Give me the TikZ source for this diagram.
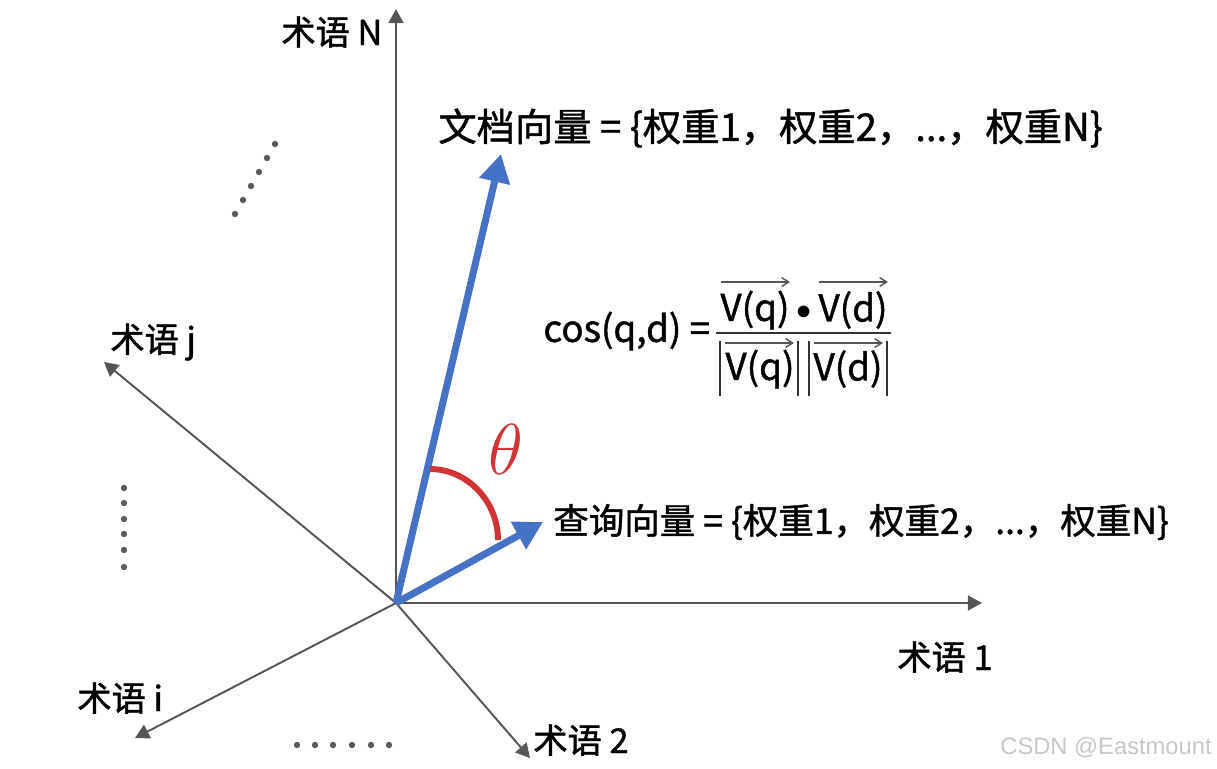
\documentclass[tikz,border=0pt]{standalone}
\usepackage{fontspec}
\setmainfont{Noto Sans CJK SC}[FakeBold=1.2]
\newfontfamily\wmfont{Liberation Sans}
\usetikzlibrary{arrows.meta}
\definecolor{axisgray}{RGB}{85,85,85}
\definecolor{vecblue}{RGB}{68,114,196}
\definecolor{arcred}{RGB}{210,52,52}
\definecolor{dotgray}{RGB}{90,90,90}
\begin{document}
\begin{tikzpicture}[x=0.02cm,y=-0.02cm,
  axis/.style={draw=axisgray,line width=1.1pt,-{Triangle[length=8pt,width=8.5pt]}},
  vec/.style={draw=vecblue,line width=4pt,-{Triangle[length=16pt,width=17pt]}},
  lbl/.style={font=\fontsize{19.5}{22}\selectfont,inner sep=0pt},
  flbl/.style={font=\fontsize{21}{24}\selectfont,inner sep=0pt},
  farr/.style={draw=axisgray,line width=0.8pt,-{Straight Barb[length=4pt,width=5pt]}},
  fbar/.style={draw=black!80,line width=0.8pt},
  dotc/.style={fill=dotgray,draw=none}]
\useasboundingbox (0,0) rectangle (1217,768);
\coordinate (O) at (396,603);
\coordinate (tN) at (396,9);
\coordinate (t1) at (982,603);
\coordinate (tj) at (104,362);
\coordinate (ti) at (135,738);
\coordinate (t2) at (530,758);
\coordinate (dtip) at (501,154);
\coordinate (qtip) at (543,522);
% axes
\draw[axis] (O) -- (tN);
\draw[axis] (O) -- (t1);
\draw[axis] (O) -- (tj);
\draw[axis] (O) -- (ti);
\draw[axis] (O) -- (t2);
% vectors
\draw[vec] (O) -- (dtip);
\draw[vec] (O) -- (qtip);
% angle arc
\coordinate (a1) at (430,469);
\coordinate (a2) at (498,540);
\draw[arcred,line width=3.4pt] (a1) .. controls (467,469) and (498,501) .. (a2);
\node[text=arcred,font=\fontsize{24}{28}\selectfont,inner sep=0pt,scale=1.65] (theta) at (506,449) {$\theta$};
% labels
\node[lbl,anchor=west] (lN) at (281,32) {术语 N};
\node[lbl,anchor=west] (lj) at (110,342) {术语 j};
\node[lbl,anchor=west] (l1) at (897,657) {术语 1};
\node[lbl,anchor=west] (li) at (77,698) {术语 i};
\node[lbl,anchor=west] (l2) at (533,740) {术语 2};
\node[lbl,anchor=west,font=\fontsize{21.8}{24}\selectfont] (ldoc) at (438,128) {文档向量 = \{权重1，权重2，...，权重N\}};
\node[lbl,anchor=west,font=\fontsize{20.2}{24}\selectfont] (lq) at (553,522) {查询向量 = \{权重1，权重2，...，权重N\}};
% formula
\node[flbl,anchor=west] (fcos) at (543,331) {cos(q,d) =};
\node[flbl] (nq) at (755,310) {V(q)};
\node[flbl,font=\fontsize{16}{18}\selectfont] (ndot) at (804,313) {$\bullet$};
\node[flbl] (nd) at (853,310) {V(d)};
\draw[farr] (721,282) -- (790,282);
\draw[farr] (819,282) -- (888,282);
\draw[fbar] (716,333) -- (891,333);
\node[flbl] (dq) at (760,369) {V(q)};
\node[flbl] (dd) at (848,369) {V(d)};
\draw[farr] (725,343) -- (794,343);
\draw[farr] (814,343) -- (883,343);
\coordinate (b1t) at (720,341); \coordinate (b1b) at (720,396);
\coordinate (b2t) at (798,341); \coordinate (b2b) at (798,396);
\coordinate (b3t) at (809,341); \coordinate (b3b) at (809,396);
\coordinate (b4t) at (887,341); \coordinate (b4b) at (887,396);
\draw[fbar] (b1t) -- (b1b);
\draw[fbar] (b2t) -- (b2b);
\draw[fbar] (b3t) -- (b3b);
\draw[fbar] (b4t) -- (b4b);
% dots
\foreach \p in {(275,144),(267,158),(259,172),(251,186),(243,200),(235,214),
  (124,488),(124,503),(124,519),(124,534),(124,550),(124,567),
  (297,745),(315,745),(333,745),(352,745),(371,745),(389,745)}
  \fill[dotc] \p circle (3.2);
% watermark
\node[anchor=east,text=black!22,font=\wmfont\fontsize{13.5}{15}\selectfont,inner sep=0pt] (wm) at (1212,748) {CSDN @Eastmount};
\end{tikzpicture}
\end{document}
